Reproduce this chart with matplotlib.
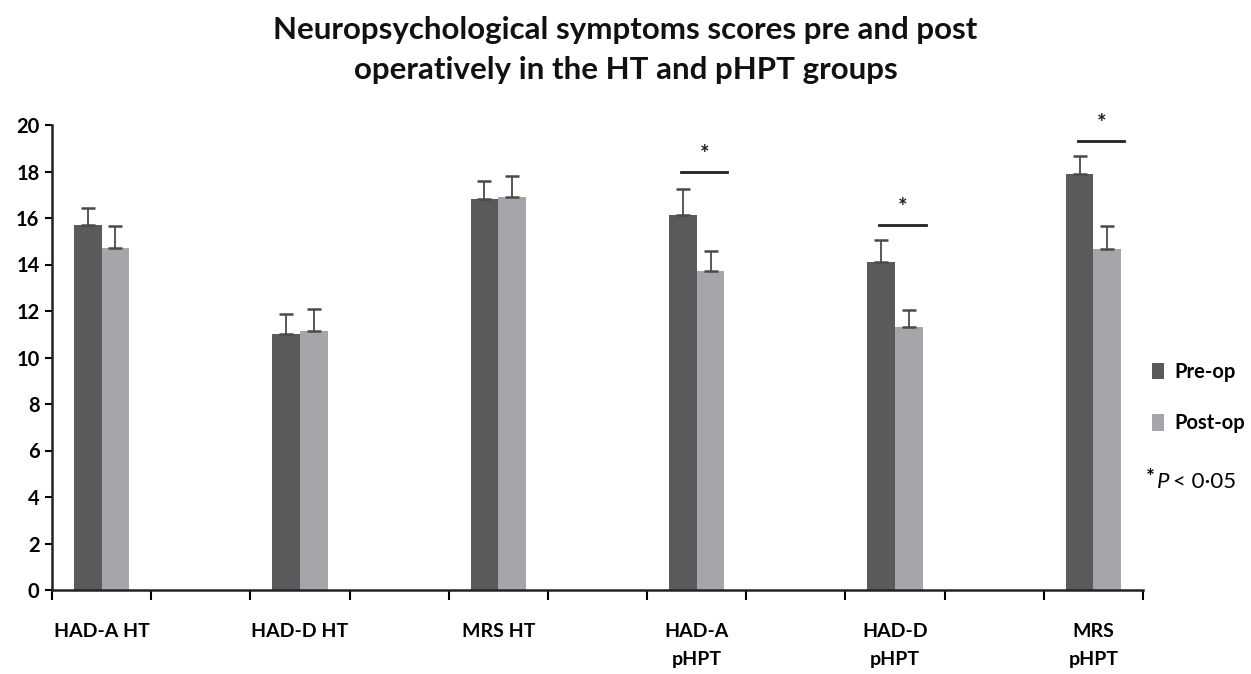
import matplotlib
matplotlib.use("Agg")
import matplotlib.pyplot as plt
import numpy as np

categories = ["HAD-A HT", "HAD-D HT", "MRS HT", "HAD-A\npHPT", "HAD-D\npHPT", "MRS\npHPT"]
pre_op = [15.7, 11.0, 16.8, 16.15, 14.1, 17.9]
post_op = [14.7, 11.15, 16.9, 13.7, 11.3, 14.65]
pre_err = [0.75, 0.85, 0.8, 1.1, 0.95, 0.75]
post_err = [0.95, 0.95, 0.9, 0.9, 0.75, 1.0]
sig_line_y = [None, None, None, 18.0, 15.7, 19.3]
series_names = ["Pre-op", "Post-op"]
title = "Neuropsychological symptoms scores pre and post\noperatively in the HT and pHPT groups"

plt.rcParams['font.family'] = ['Lato', 'DejaVu Sans']
dark = "#5a5a5c"
light = "#a5a6aa"
errc = "#4a4a4a"

fig = plt.figure(figsize=(12.51, 6.74), dpi=100)
ax = fig.add_axes([52/1251, 1-590/674, (1143-52)/1251, (590-125)/674])

pos = np.arange(len(categories)) * 2
w = 0.28
ax.bar(pos - w/2, pre_op, w, color=dark, label=series_names[0], zorder=2)
ax.bar(pos + w/2, post_op, w, color=light, label=series_names[1], zorder=2)
ax.errorbar(pos - w/2, pre_op, yerr=[np.zeros(len(pre_op)), pre_err], fmt='none',
            ecolor=errc, elinewidth=1.3, capsize=5, capthick=1.8, zorder=3)
ax.errorbar(pos + w/2, post_op, yerr=[np.zeros(len(post_op)), post_err], fmt='none',
            ecolor=errc, elinewidth=1.3, capsize=5, capthick=1.8, zorder=3)

for p, y in zip(pos, sig_line_y):
    if y is None:
        continue
    ax.plot([p - 0.16, p + 0.31], [y, y], color="#222222", lw=2)
    ax.text(p + 0.08, y + 0.3, "*", ha='center', va='bottom', fontsize=16, fontweight='bold', color="#222222")

ax.set_ylim(0, 20)
ax.set_xlim(-0.5, pos[-1] + 0.5)
ax.set_yticks(np.arange(0, 21, 2))
ax.tick_params(axis='y', labelsize=14.5, length=5, width=1.5, pad=4)
for lab in ax.get_yticklabels():
    lab.set_fontweight('bold')
ax.set_xticks(np.arange(-0.5, pos[-1] + 1, 1))
ax.set_xticklabels([])
ax.tick_params(axis='x', which='major', length=7, width=1.5, direction='out')
ax.set_xticks(pos, minor=True)
ax.set_xticklabels(categories, minor=True, fontsize=14, fontweight='bold', va='top', linespacing=1.75)
ax.tick_params(axis='x', which='minor', length=0, pad=24)

for s in ['top', 'right']:
    ax.spines[s].set_visible(False)
for s in ['left', 'bottom']:
    ax.spines[s].set_linewidth(1.8)
    ax.spines[s].set_color("#222222")

fig.text(0.5, 1-50/674, title, ha='center', va='center', fontsize=22.5, fontweight='bold',
         linespacing=1.5, color="#111111")

leg = ax.legend(loc='upper left', bbox_to_anchor=(1152/1251, 1-362/674), bbox_transform=fig.transFigure,
                frameon=False, handlelength=0.6, handleheight=0.9, labelspacing=1.55,
                handletextpad=0.5, prop={'size': 14.5, 'weight': 'bold'}, borderaxespad=0, borderpad=0)

fig.text(1146/1251, 1-478/674, "*", ha='left', va='center', fontsize=15, fontweight='bold')
fig.text(1157/1251, 1-482/674, "P", ha='left', va='center', fontsize=16, style='italic')
fig.text(1173/1251, 1-482/674, "< 0·05", ha='left', va='center', fontsize=16)

fig.savefig("out.png", dpi=100, facecolor='white')
